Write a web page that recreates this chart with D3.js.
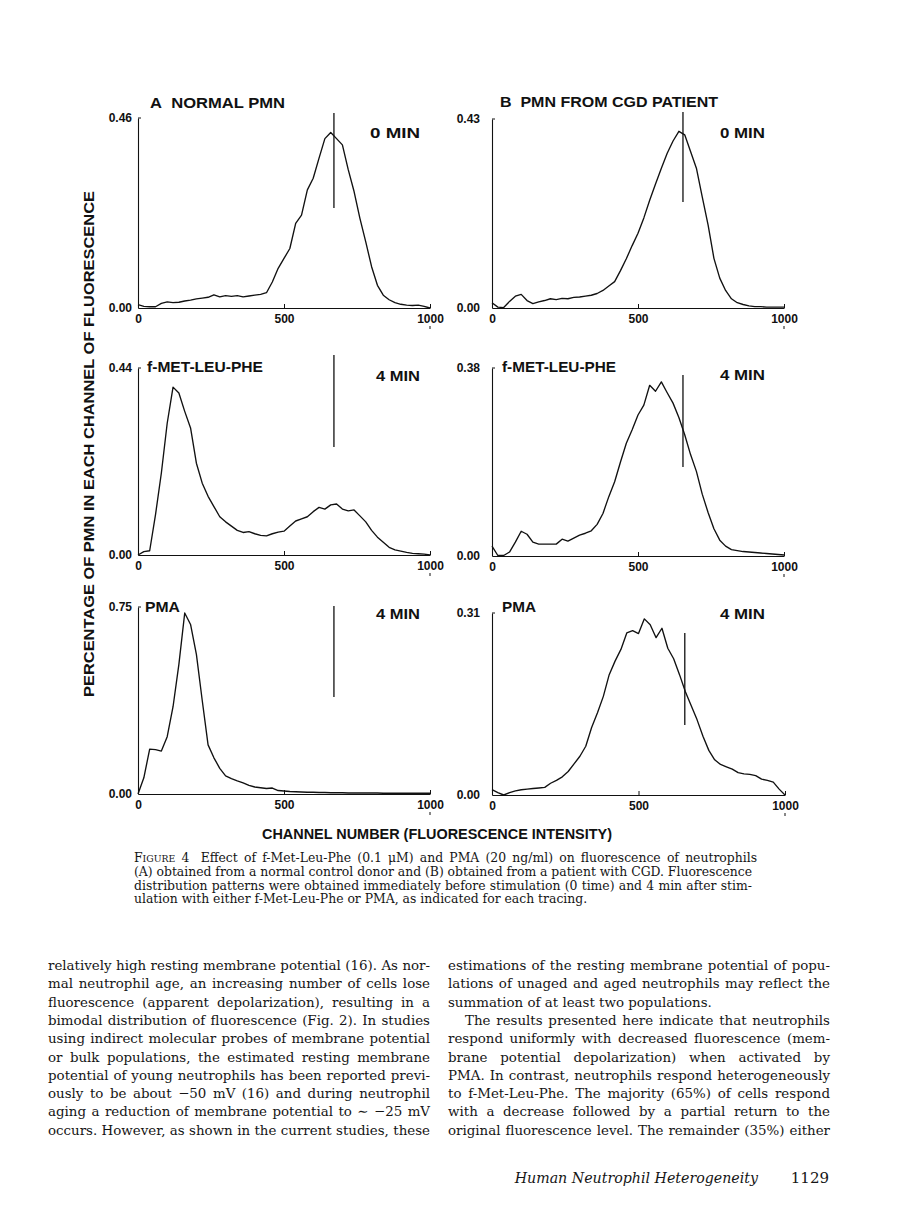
<!DOCTYPE html>
<html><head><meta charset="utf-8">
<script src="https://cdn.jsdelivr.net/npm/d3@7"></script>
<style>
body{margin:0;background:#fff}
svg{display:block}
.fig{font-family:"Liberation Sans",Arial,sans-serif;font-weight:bold;fill:#111}
.serif{font-family:"DejaVu Serif",serif;fill:#151515}
</style></head>
<body><svg id="c" width="898" height="1228"></svg>
<script>
// ---------------- data ----------------
const channels = [0,20,40,60,80,100,120,140,160,180,200,220,240,260,280,300,320,340,360,380,400,420,440,460,480,500,520,540,560,580,600,620,640,660,680,700,720,740,760,780,800,820,840,860,880,900,920,940,960,980,1000];
const xTicks = [0,500,1000];

const normal0 = [0.008,0.004,0.003,0.003,0.011,0.015,0.013,0.014,0.017,0.019,0.022,0.024,0.026,0.032,0.027,0.030,0.028,0.030,0.027,0.029,0.031,0.033,0.037,0.063,0.096,0.120,0.144,0.205,0.225,0.286,0.314,0.363,0.410,0.425,0.410,0.395,0.335,0.282,0.217,0.160,0.100,0.055,0.031,0.020,0.013,0.009,0.007,0.006,0.007,0.004,0.000];
const cgd0 = [0.012,0.002,0.001,0.015,0.027,0.031,0.017,0.010,0.014,0.017,0.021,0.019,0.022,0.021,0.024,0.025,0.027,0.029,0.033,0.040,0.050,0.060,0.085,0.112,0.142,0.170,0.205,0.245,0.282,0.318,0.352,0.380,0.402,0.394,0.356,0.318,0.253,0.189,0.113,0.068,0.040,0.021,0.012,0.008,0.005,0.003,0.003,0.002,0.002,0.002,0.002];
const normalFmlp = [0.000,0.008,0.010,0.095,0.193,0.310,0.395,0.381,0.338,0.299,0.216,0.169,0.138,0.114,0.090,0.078,0.068,0.058,0.053,0.055,0.050,0.046,0.045,0.050,0.054,0.056,0.068,0.080,0.085,0.090,0.102,0.112,0.108,0.118,0.120,0.108,0.104,0.106,0.092,0.078,0.058,0.042,0.030,0.018,0.012,0.009,0.006,0.004,0.003,0.002,0.000];
const cgdFmlp = [0.020,0.001,0.001,0.008,0.028,0.050,0.044,0.028,0.024,0.024,0.024,0.024,0.034,0.030,0.036,0.042,0.046,0.051,0.064,0.086,0.120,0.150,0.190,0.228,0.255,0.285,0.305,0.345,0.333,0.352,0.330,0.309,0.280,0.245,0.205,0.171,0.125,0.088,0.055,0.032,0.020,0.013,0.011,0.009,0.008,0.007,0.006,0.005,0.004,0.003,0.002];
const normalPma = [0.000,0.065,0.180,0.178,0.172,0.230,0.350,0.520,0.726,0.680,0.560,0.375,0.197,0.145,0.103,0.073,0.062,0.053,0.045,0.035,0.028,0.025,0.022,0.024,0.014,0.012,0.010,0.009,0.008,0.007,0.007,0.006,0.006,0.005,0.005,0.005,0.004,0.004,0.004,0.004,0.004,0.004,0.003,0.003,0.003,0.003,0.003,0.003,0.003,0.003,0.003];
const cgdPma = [0.009,0.004,0.000,0.004,0.007,0.009,0.010,0.011,0.012,0.013,0.020,0.025,0.031,0.040,0.053,0.066,0.083,0.115,0.140,0.168,0.205,0.228,0.248,0.276,0.280,0.275,0.300,0.290,0.268,0.284,0.250,0.232,0.205,0.176,0.152,0.128,0.100,0.076,0.060,0.052,0.048,0.044,0.038,0.036,0.035,0.033,0.027,0.025,0.022,0.010,0.000];

const panelSeries = [normal0, cgd0, normalFmlp, cgdFmlp, normalPma, cgdPma];
const yMaxValues = [0.46, 0.43, 0.44, 0.38, 0.75, 0.31];
const markerChannels = [671, 654, 671, 654, 671, 658];
const treatmentLabels = ["", "", "f-MET-LEU-PHE", "f-MET-LEU-PHE", "PMA", "PMA"];
const timeLabels = ["0 MIN", "0 MIN", "4 MIN", "4 MIN", "4 MIN", "4 MIN"];
const columnTitles = ["A\u00A0\u00A0NORMAL PMN", "B\u00A0\u00A0PMN FROM CGD PATIENT"];

const yAxisTitle = "PERCENTAGE OF PMN IN EACH CHANNEL OF FLUORESCENCE";
const xAxisTitle = "CHANNEL NUMBER (FLUORESCENCE INTENSITY)";

const captionLines = [
  "Effect of f-Met-Leu-Phe (0.1 \u03BCM) and PMA (20 ng/ml) on fluorescence of neutrophils",
  "(A) obtained from a normal control donor and (B) obtained from a patient with CGD. Fluorescence",
  "distribution patterns were obtained immediately before stimulation (0 time) and 4 min after stim-",
  "ulation with either f-Met-Leu-Phe or PMA, as indicated for each tracing."
];
const leftColumn = [
  "relatively high resting membrane potential (16). As nor-",
  "mal neutrophil age, an increasing number of cells lose",
  "fluorescence (apparent depolarization), resulting in a",
  "bimodal distribution of fluorescence (Fig. 2). In studies",
  "using indirect molecular probes of membrane potential",
  "or bulk populations, the estimated resting membrane",
  "potential of young neutrophils has been reported previ-",
  "ously to be about \u221250 mV (16) and during neutrophil",
  "aging a reduction of membrane potential to \u223C \u221225 mV",
  "occurs. However, as shown in the current studies, these"
];
const rightColumn = [
  "estimations of the resting membrane potential of popu-",
  "lations of unaged and aged neutrophils may reflect the",
  "summation of at least two populations.",
  "The results presented here indicate that neutrophils",
  "respond uniformly with decreased fluorescence (mem-",
  "brane potential depolarization) when activated by",
  "PMA. In contrast, neutrophils respond heterogeneously",
  "to f-Met-Leu-Phe. The majority (65%) of cells respond",
  "with a decrease followed by a partial return to the",
  "original fluorescence level. The remainder (35%) either"
];
const footerTitle = "Human Neutrophil Heterogeneity";
const pageNumber = "1129";

// ---------------- layout ----------------
const layout = [
  {x0:138,x1:430,top:118,base:308,mTop:113,mBot:208,lab:[0,0],time:[370,138,50],pad:6},
  {x0:492,x1:784,top:119,base:308,mTop:112,mBot:202,lab:[0,0],time:[720,138,45],pad:12},
  {x0:138,x1:430,top:368,base:555,mTop:355,mBot:447,lab:[147,372,116],time:[376,381,44],pad:6},
  {x0:492,x1:784,top:368,base:556,mTop:375,mBot:467,lab:[502,372,114],time:[720,380,45],pad:12},
  {x0:138,x1:430,top:607,base:794,mTop:606,mBot:697,lab:[145,612,35],time:[376,619,44],pad:6},
  {x0:492,x1:785,top:613,base:795,mTop:633,mBot:725,lab:[502,612,34],time:[720,619,45],pad:12}
];

const svg = d3.select("#c");
svg.append("rect").attr("width",898).attr("height",1228).attr("fill","#fff");

layout.forEach((p,i) => {
  const x = d3.scaleLinear().domain([0,1000]).range([p.x0,p.x1]);
  const y = d3.scaleLinear().domain([0,yMaxValues[i]]).range([p.base,p.top]);
  const g = svg.append("g");

  const gx = g.append("g").attr("transform",`translate(0,${p.base})`)
    .call(d3.axisBottom(x).tickValues(xTicks).tickSizeInner(-4).tickSizeOuter(0).tickPadding(6).tickFormat(d3.format("d")));
  const gy = g.append("g").attr("transform",`translate(${p.x0},0)`)
    .call(d3.axisLeft(y).tickValues([0,yMaxValues[i]]).tickSize(0).tickPadding(p.pad).tickFormat(d3.format(".2f")));
  [gx,gy].forEach(a=>{
    a.select(".domain").attr("stroke","#111").attr("stroke-width",1.1);
    a.selectAll(".tick line").attr("stroke","#111").attr("stroke-width",1);
    a.selectAll("text").attr("class","fig").attr("font-size",12).attr("fill","#111");
  });
  g.append("line").attr("x1",p.x0).attr("x2",p.x0+3).attr("y1",p.top).attr("y2",p.top)
    .attr("stroke","#111").attr("stroke-width",1);
  g.append("line").attr("x1",x(1000)).attr("x2",x(1000)).attr("y1",p.base+18).attr("y2",p.base+21)
    .attr("stroke","#111").attr("stroke-width",1);

  const line = d3.line().x((d,j)=>x(channels[j])).y(d=>y(d)).curve(d3.curveLinear);
  g.append("path").datum(panelSeries[i]).attr("d",line)
    .attr("fill","none").attr("stroke","#111").attr("stroke-width",1.35).attr("stroke-linejoin","round");

  g.append("line").attr("x1",x(markerChannels[i])).attr("x2",x(markerChannels[i]))
    .attr("y1",p.mTop).attr("y2",p.mBot).attr("stroke","#111").attr("stroke-width",1.3);

  if (treatmentLabels[i]) {
    g.append("text").attr("class","fig").attr("x",p.lab[0]).attr("y",p.lab[1])
      .attr("font-size",14).attr("textLength",p.lab[2]).attr("lengthAdjust","spacingAndGlyphs")
      .text(treatmentLabels[i]);
  }
  g.append("text").attr("class","fig").attr("x",p.time[0]).attr("y",p.time[1])
    .attr("font-size",14).attr("textLength",p.time[2]).attr("lengthAdjust","spacingAndGlyphs")
    .text(timeLabels[i]);
});

svg.append("text").attr("class","fig").attr("x",150).attr("y",108).attr("font-size",14.5)
  .attr("textLength",135).attr("lengthAdjust","spacingAndGlyphs").text(columnTitles[0]);
svg.append("text").attr("class","fig").attr("x",500).attr("y",107).attr("font-size",14.5)
  .attr("textLength",218).attr("lengthAdjust","spacingAndGlyphs").text(columnTitles[1]);

svg.append("text").attr("class","fig").attr("transform","translate(94,444) rotate(-90)")
  .attr("text-anchor","middle").attr("font-size",14).attr("textLength",506)
  .attr("lengthAdjust","spacingAndGlyphs").text(yAxisTitle);
svg.append("text").attr("class","fig").attr("x",437).attr("y",839).attr("text-anchor","middle")
  .attr("font-size",14.5).attr("textLength",350).attr("lengthAdjust","spacingAndGlyphs").text(xAxisTitle);

// justify: distribute extra width over word gaps; if the line is too long, squeeze glyphs
function justify(t, width){
  const node = t.node();
  t.attr("word-spacing",0);
  const w = node.getComputedTextLength();
  const n = (node.textContent.match(/ /g)||[]).length;
  const ws = n ? (width-w)/n : 0;
  if (ws >= -0.8) {
    if (n) t.attr("word-spacing",ws);
  } else {
    t.attr("word-spacing",-0.8);
    t.attr("textLength",width).attr("lengthAdjust","spacingAndGlyphs");
  }
}

// caption
const capX = 134, capR = 752, capY0 = 862, capDY = 13.8;
captionLines.forEach((s,i)=>{
  const t = svg.append("text").attr("class","serif").attr("font-size",12.4).attr("y",capY0+i*capDY);
  t.attr("x",capX);
  if (i===0){
    t.append("tspan").text("F");
    t.append("tspan").attr("font-size",9.3).text("IGURE");
    t.append("tspan").text(" 4");
    t.append("tspan").attr("dx",5).text(" "+s);
  } else {
    t.text(s);
  }
  if (i<3) justify(t, capR-capX);
});

// body text columns
const bodyY0 = 970, bodyDY = 18.3, bodyFs = 13.4;
leftColumn.forEach((s,i)=>{
  const t = svg.append("text").attr("class","serif").attr("font-size",bodyFs)
    .attr("x",48).attr("y",bodyY0+i*bodyDY).text(s);
  justify(t, 430-48);
});
rightColumn.forEach((s,i)=>{
  const indent = i===3 ? 17 : 0;
  const t = svg.append("text").attr("class","serif").attr("font-size",bodyFs)
    .attr("x",448+indent).attr("y",bodyY0+i*bodyDY).text(s);
  if (i!==2) justify(t, 830-448-indent);
});

svg.append("text").attr("class","serif").attr("font-size",14.2).attr("font-style","italic")
  .attr("x",758).attr("y",1183).attr("text-anchor","end").text(footerTitle);
svg.append("text").attr("class","serif").attr("font-size",15)
  .attr("x",829).attr("y",1183).attr("text-anchor","end").text(pageNumber);
</script>
</body></html>
